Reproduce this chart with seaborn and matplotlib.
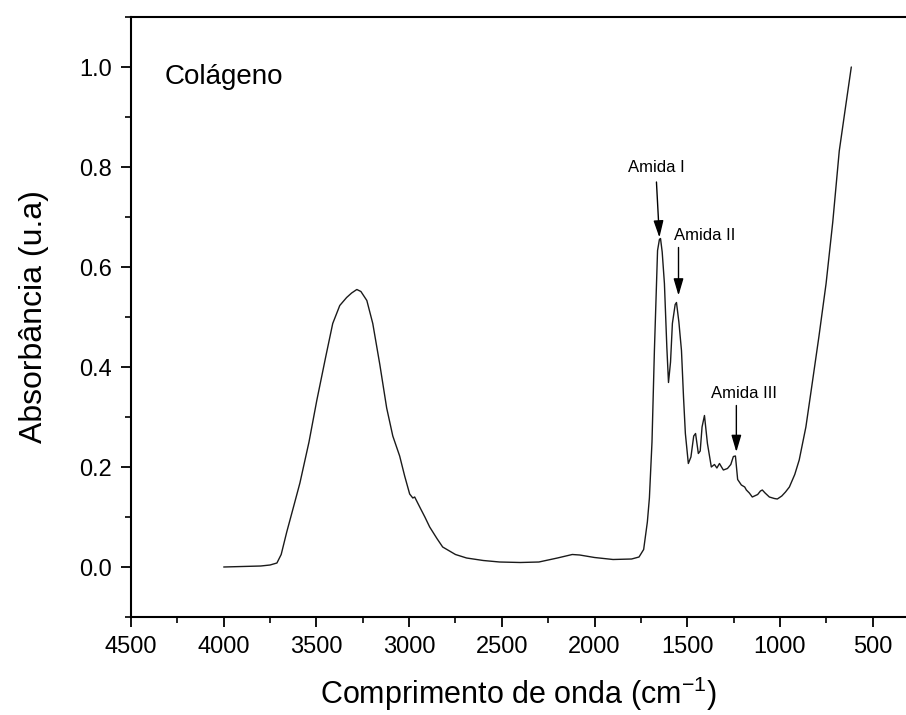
import matplotlib
matplotlib.use("Agg")
import matplotlib.pyplot as plt
from matplotlib.ticker import MultipleLocator
import seaborn as sns
import pandas as pd

wavenumber = [4000, 3900, 3800, 3750, 3713, 3690, 3660, 3620, 3589, 3540, 3498, 3450, 3412, 3374,
              3337, 3310, 3282, 3260, 3228, 3196, 3158, 3121, 3088, 3051, 3024, 2997, 2980,
              2970, 2940, 2915, 2889, 2850, 2819, 2750, 2690, 2600, 2512, 2400, 2300, 2200, 2120,
              2080, 2000, 1900, 1800, 1760, 1735, 1715, 1704, 1690, 1677, 1660, 1650, 1644, 1635,
              1623, 1610, 1601, 1590, 1580, 1565, 1558, 1545, 1531, 1520, 1510, 1494, 1480, 1465,
              1455, 1440, 1430, 1420, 1407, 1391, 1370, 1360, 1353, 1340, 1326, 1315, 1305, 1283,
              1265, 1251, 1240, 1228, 1208, 1190, 1181, 1165, 1149, 1120, 1105, 1095, 1080, 1057,
              1030, 1014, 990, 970, 949, 920, 896, 860, 826, 790, 751, 715, 680, 650, 615]
absorbance = [0.000, 0.001, 0.002, 0.004, 0.008, 0.025, 0.070, 0.125, 0.168, 0.250, 0.333, 0.420,
              0.487, 0.523, 0.539, 0.548, 0.555, 0.551, 0.533, 0.487, 0.405, 0.318, 0.262,
              0.222, 0.182, 0.146, 0.138, 0.140, 0.118, 0.100, 0.080, 0.057, 0.040, 0.025, 0.018,
              0.013, 0.010, 0.009, 0.010, 0.018, 0.025, 0.024, 0.019, 0.015, 0.016, 0.020, 0.035,
              0.090, 0.138, 0.250, 0.433, 0.633, 0.655, 0.657, 0.630, 0.567, 0.440, 0.369, 0.410,
              0.487, 0.525, 0.529, 0.490, 0.433, 0.340, 0.267, 0.207, 0.220, 0.262, 0.267, 0.227,
              0.232, 0.280, 0.303, 0.247, 0.200, 0.203, 0.205, 0.198, 0.207, 0.200, 0.194, 0.197,
              0.205, 0.221, 0.222, 0.175, 0.164, 0.160, 0.154, 0.148, 0.140, 0.145, 0.152, 0.154,
              0.148, 0.140, 0.137, 0.136, 0.142, 0.150, 0.160, 0.185, 0.214, 0.280, 0.367, 0.460,
              0.567, 0.690, 0.832, 0.910, 1.000]

band_labels = ["Amida I", "Amida II", "Amida III"]
band_peak_x = [1650, 1547, 1235]
band_peak_y = [0.659, 0.543, 0.230]
band_tail_x = [1666, 1547, 1235]
band_tail_y = [0.770, 0.639, 0.323]
band_text_x = [1666, 1407, 1192]
band_text_y = [0.798, 0.663, 0.347]

x_ticks = [4500, 4000, 3500, 3000, 2500, 2000, 1500, 1000, 500]
y_ticks = [0.0, 0.2, 0.4, 0.6, 0.8, 1.0]

sns.set_theme(style="ticks")
plt.rcParams['font.family'] = ['Liberation Sans', 'DejaVu Sans']
plt.rcParams['text.color'] = 'black'
plt.rcParams['axes.labelcolor'] = 'black'

df = pd.DataFrame({"w": wavenumber, "a": absorbance})

fig = plt.figure(figsize=(9.06, 7.15), dpi=100)
ax = fig.add_axes([131 / 906, (715 - 617) / 715, 1 - 131 / 906, (617 - 17) / 715])
sns.lineplot(data=df, x="w", y="a", ax=ax, color="#1a1a1a", lw=1.0, estimator=None, sort=True)

ax.set_xlim(4500, 320)
ax.set_ylim(-0.1, 1.1)
ax.set_xticks(x_ticks)
ax.set_yticks(y_ticks)
ax.set_xticklabels([str(t) for t in x_ticks])
ax.set_yticklabels([f"{t:.1f}" for t in y_ticks])
ax.xaxis.set_minor_locator(MultipleLocator(250))
ax.yaxis.set_minor_locator(MultipleLocator(0.1))
ax.tick_params(axis="both", which="major", direction="out", length=7.5, width=1.3, labelsize=17,
               colors="black", pad=6)
ax.tick_params(axis="both", which="minor", direction="out", length=4, width=1.2, colors="black")
for s in ["left", "bottom", "top"]:
    ax.spines[s].set_linewidth(1.5)
    ax.spines[s].set_color("black")
    ax.spines[s].set_visible(True)
ax.spines["right"].set_visible(False)

ax.set_xlabel("Comprimento de onda (cm$^{\\mathregular{-1}}$)", fontsize=22, labelpad=12, color="black")
ax.set_ylabel("Absorbância (u.a)", fontsize=23, labelpad=22, color="black")

ax.text(4317, 0.98, "Colágeno", fontsize=20, ha="left", va="center", color="black")

for lab, px, py, tx0, ty, tx, tyt in zip(band_labels, band_peak_x, band_peak_y, band_tail_x, band_tail_y,
                                         band_text_x, band_text_y):
    ax.annotate("", xy=(px, py), xytext=(tx0, ty),
                arrowprops=dict(arrowstyle="-|>,head_length=0.85,head_width=0.25", color="black", lw=1.0,
                                mutation_scale=12, shrinkA=0, shrinkB=0))
    ax.text(tx, tyt, lab, fontsize=12, ha="center", va="center", color="black")

fig.savefig("out.png", dpi=100)
